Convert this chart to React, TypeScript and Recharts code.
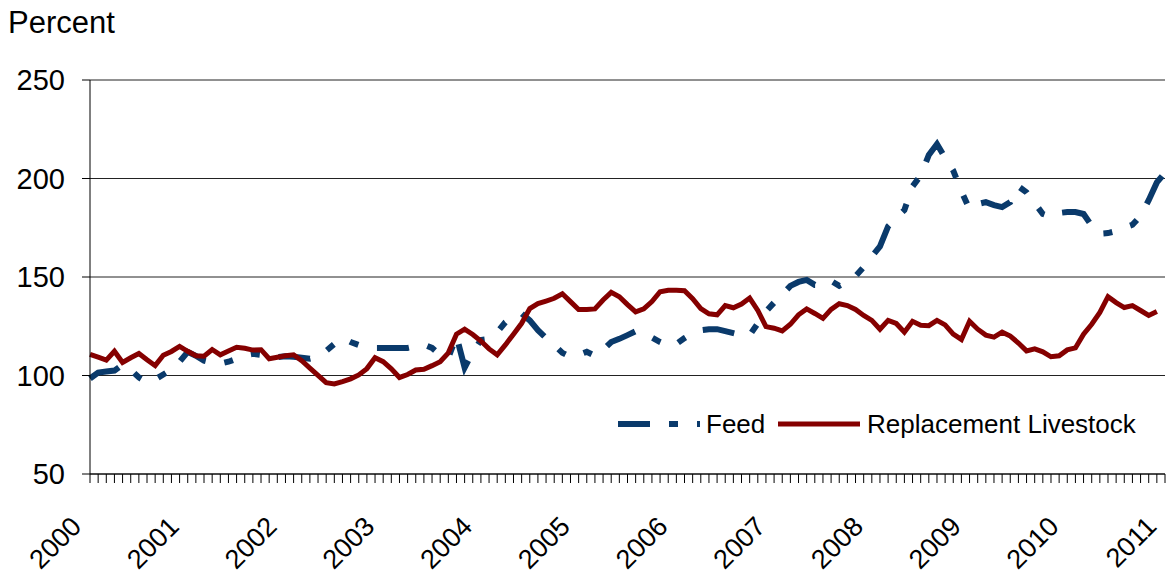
import { LineChart, Line, XAxis, YAxis, CartesianGrid, Legend } from 'recharts'

const startYear = 2000
const yTicks = [50, 100, 150, 200, 250]

// monthly index, Jan 2000 = 0 ... Jan 2011 = 132
const feed = [
  98.5, 101.5, 102, 102.5, 105.5, 103, 99, 96.5, 98, 100.5, 103, 107,
  112, 110, 107.5, 106.5, 106, 107, 108.5, 110.3, 111, 110.5, 109.5, 109.3,
  109.8, 109.5, 109, 108.5, 109.5, 112.5, 116, 119, 117, 115.5, 114.3, 114,
  114, 114, 114, 114, 114.8, 115.7, 114, 110.5, 109, 120, 104, 112,
  118, 118.5, 122, 127, 130, 131.5, 128, 123, 119, 115.5, 111.5, 109.5,
  110.5, 112, 110, 113, 117, 118.6, 120.5, 122.5, 121.5, 119.3, 117, 115.2,
  116, 119, 121.5, 123, 123.5, 123.5, 122.5, 121.5, 120.5, 120.5, 126.5, 132.5,
  137, 141, 145.5, 147.5, 148.5, 146, 146, 148, 145.5, 147.5, 150.5, 155,
  160.5, 165.5, 175.7, 180, 184, 196, 201.5, 212, 217.5, 210.5, 204, 193.5,
  184.5, 187, 188, 186.5, 185.5, 188, 196, 193, 187.5, 182, 180.5, 182.5,
  183, 183, 182, 176, 172, 172.3, 173.3, 175, 176.5, 181, 189, 198,
  203,
]

const livestock = [
  110.7, 109.3, 107.8, 112.3, 106.6, 109, 111.2, 108, 105, 110.3, 112.2, 114.8,
  112.3, 110, 109.8, 113.2, 110.5, 112.4, 114.3, 113.8, 112.9, 113.1, 108.5, 109.3,
  110, 110.5, 107.5, 103.8, 100.1, 96.4, 95.7, 96.9, 98.3, 100.3, 103.5, 109,
  107, 103.4, 99, 100.5, 102.8, 103.2, 105, 107, 111.5, 121, 123.5, 120.8,
  117.5, 113.5, 110.5, 115.5, 121, 126.5, 134, 136.5, 137.8, 139.2, 141.5, 137.5,
  133.5, 133.5, 133.8, 138.3, 142.2, 140, 136, 132.3, 133.8, 137.5, 142.5, 143.3,
  143.3, 143, 139, 134, 131.3, 130.8, 135.5, 134.4, 136.3, 139.3, 133, 124.8,
  124, 122.6, 126, 130.8, 133.8, 131.5, 129, 133.6, 136.4, 135.5, 133.5, 130.5,
  128, 123.5, 128, 126.4, 122, 127.5, 125.5, 125.3, 128, 125.7, 121, 118.3,
  127.5, 123.5, 120.5, 119.5, 122, 120, 116.5, 112.5, 113.5, 112, 109.5, 110,
  113, 114, 121, 126, 132, 140, 137, 134.5, 135.5, 133, 130.5, 132.5,
  null,
]

const data = feed.map((f, i) => ({ i, feed: f, livestock: livestock[i] }))
const monthTicks = feed.map((_, i) => i)

const FONT = '"Liberation Sans", Arial, sans-serif'
const BLUE = '#0a3a6b'
const RED = '#850000'
const feedDash = '32 19 9 19 9 19'

function YearTick({ x, y, payload }: any) {
  if (payload.value % 12 !== 0) return <g />
  const year = startYear + payload.value / 12
  return (
    <text
      transform={`translate(${x - 7},${y + 43}) rotate(-45)`}
      textAnchor="end"
      fontSize={27}
      fontFamily={FONT}
      fill="#000"
    >
      {year}
    </text>
  )
}

function ChartLegend() {
  return (
    <svg width={560} height={40} style={{ display: 'block' }}>
      <line x1={8} x2={90} y1={19} y2={19} stroke={BLUE} strokeWidth={6} strokeDasharray={feedDash} />
      <text x={96} y={28} fontSize={26} fontFamily={FONT} fill="#000">Feed</text>
      <line x1={168} x2={250} y1={19} y2={19} stroke={RED} strokeWidth={5} />
      <text x={257} y={28} fontSize={26} fontFamily={FONT} fill="#000">Replacement Livestock</text>
    </svg>
  )
}

export default function App() {
  return (
    <div style={{ position: 'absolute', left: 0, top: 0, width: 1176, height: 575, background: '#fff' }}>
      <div
        style={{
          position: 'absolute',
          left: 8,
          top: 7,
          fontSize: 31,
          lineHeight: 1,
          fontFamily: FONT,
          color: '#000',
        }}
      >
        Percent
      </div>
      <LineChart
        width={1176}
        height={575}
        data={data}
        margin={{ top: 80, right: 11, bottom: 0, left: 0 }}
      >
        <CartesianGrid vertical={false} stroke="#222" strokeWidth={1} />
        <XAxis
          dataKey="i"
          type="number"
          domain={[0, 132]}
          ticks={monthTicks}
          interval={0}
          height={101}
          tick={<YearTick />}
          tickSize={9}
          axisLine={{ stroke: '#000' }}
          tickLine={{ stroke: '#000' }}
        />
        <YAxis
          domain={[50, 250]}
          ticks={yTicks}
          width={90}
          tickSize={8}
          tickMargin={17}
          axisLine={{ stroke: '#000' }}
          tickLine={{ stroke: '#000' }}
          tick={{ fill: '#000', fontSize: 29, fontFamily: FONT }}
        />
        <Legend
          layout="horizontal"
          verticalAlign="middle"
          align="center"
          content={() => <ChartLegend />}
          wrapperStyle={{ left: 610, top: 405, width: 560, height: 40 }}
        />
        <Line
          type="linear"
          dataKey="feed"
          stroke={BLUE}
          strokeWidth={6}
          strokeDasharray={feedDash}
          dot={false}
          isAnimationActive={false}
        />
        <Line
          type="linear"
          dataKey="livestock"
          stroke={RED}
          strokeWidth={5}
          dot={false}
          isAnimationActive={false}
        />
      </LineChart>
    </div>
  )
}
